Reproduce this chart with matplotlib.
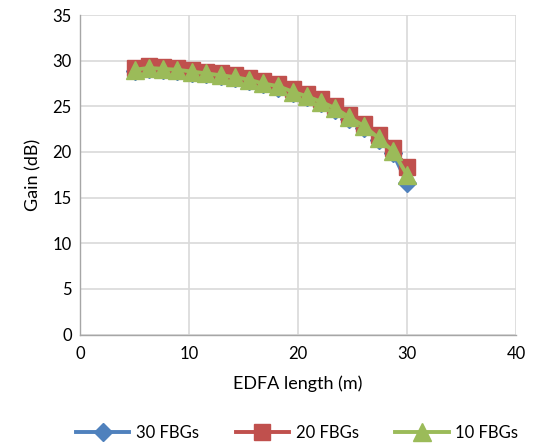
import matplotlib.pyplot as plt

# EDFA length (m)
length = [5.0, 6.3, 7.6, 8.9, 10.3, 11.6, 12.9, 14.2, 15.5, 16.8,
          18.2, 19.5, 20.8, 22.1, 23.4, 24.7, 26.1, 27.4, 28.7, 30.0]

# Gain (dB) per configuration
gain_30 = [28.9, 29.1, 29.0, 28.9, 28.7, 28.5, 28.3, 28.1, 27.8, 27.4,
           27.0, 26.5, 26.0, 25.4, 24.6, 23.6, 22.6, 21.3, 19.9, 16.6]
gain_20 = [29.2, 29.4, 29.3, 29.2, 29.0, 28.8, 28.6, 28.4, 28.1, 27.8,
           27.4, 26.9, 26.4, 25.8, 25.0, 24.1, 23.1, 21.8, 20.4, 18.3]
gain_10 = [29.0, 29.2, 29.1, 29.0, 28.8, 28.6, 28.4, 28.2, 27.9, 27.5,
           27.2, 26.6, 26.1, 25.5, 24.8, 23.8, 22.8, 21.5, 20.1, 17.5]

plt.rcParams['font.family'] = ['Lato', 'DejaVu Sans']

fig = plt.figure(figsize=(5.45, 4.43), dpi=100)
ax = fig.add_axes([80 / 545, 1 - 334.5 / 443, 436 / 545, 319.5 / 443])

ax.plot(length, gain_30, color='#4F81BD', lw=2.8, marker='D', ms=9.5,
        label='30 FBGs', zorder=3)
ax.plot(length, gain_20, color='#C0504D', lw=2.8, marker='s', ms=11,
        label='20 FBGs', zorder=4)
ax.plot(length, gain_10, color='#9BBB59', lw=2.8, marker='^', ms=13,
        label='10 FBGs', zorder=5)

ax.set_xlim(0, 40)
ax.set_ylim(0, 35)
ax.set_xticks(range(0, 41, 10))
ax.set_yticks(range(0, 36, 5))
ax.grid(True, color='#d9d9d9', lw=1.2)
ax.set_axisbelow(True)
for side in ['top', 'right']:
    ax.spines[side].set_visible(False)
for side in ['left', 'bottom']:
    ax.spines[side].set_color('#a6a6a6')
    ax.spines[side].set_linewidth(1.0)
ax.tick_params(length=0, labelsize=12, pad=6, colors='black')
ax.tick_params(axis='x', pad=8)

ax.set_xlabel('EDFA length (m)', fontsize=13, labelpad=10)
ax.set_ylabel('Gain (dB)', fontsize=13, labelpad=8)

fig.legend(loc='lower center', bbox_to_anchor=(0.545, -0.03), ncol=3,
           frameon=False, fontsize=12, handlelength=3.2, columnspacing=2.2,
           handletextpad=0.4)

fig.savefig('out.png', dpi=100)
